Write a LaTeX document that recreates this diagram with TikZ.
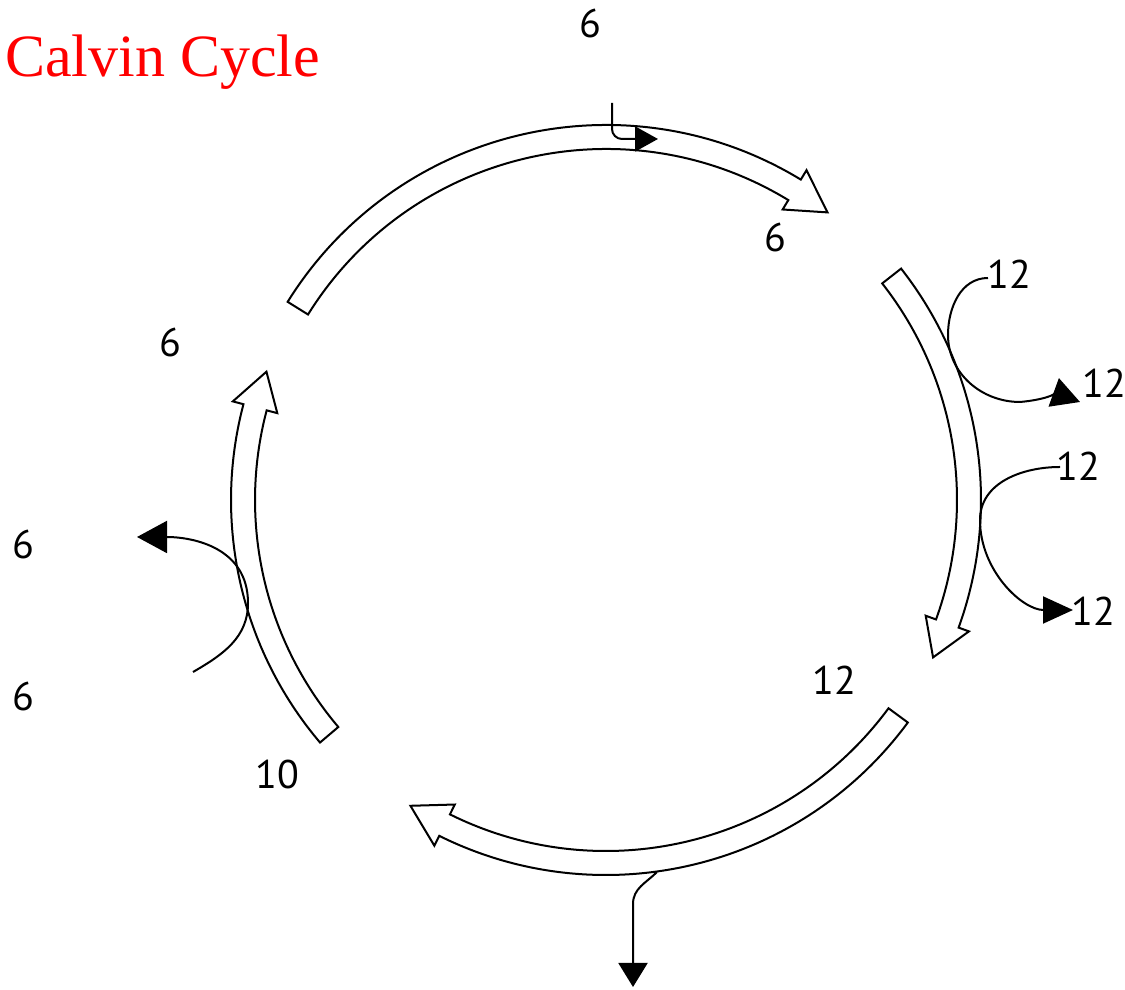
\documentclass[tikz,border=0pt]{standalone}
\usepackage{fontspec}
\setmainfont{Liberation Serif}
\newfontfamily\numfont{PT Sans}
\usetikzlibrary{arrows.meta}
\newcommand\cycband[3]{%
  \draw[band] (#1:375pt) arc[start angle=#1, end angle=#2, radius=375pt]
    -- (#2:386pt) -- (#3:363pt) -- (#2:340pt) -- (#2:351pt)
    arc[start angle=#2, end angle=#1, radius=351pt] -- cycle;}
\begin{document}
\begin{tikzpicture}[x=1pt,y=1pt,
  band/.style={draw=black, fill=white, line width=2pt, line join=miter},
  conn/.style={draw=black, line width=2pt},
  num/.style={font=\numfont\fontsize{40}{40}\selectfont, inner sep=0pt, text=black}]
\useasboundingbox (0,0) rectangle (1125,990);

% title
\node[anchor=base west, inner sep=0pt, text=red,
      font=\fontsize{60}{60}\selectfont] (title) at (5,913) {Calvin Cycle};

% the four cycle bands
\begin{scope}[shift={(606,490)}]
  \cycband{148.1}{58.7}{52.4}
  \cycband{38.1}{-19.9}{-25.7}
  \cycband{-36.4}{-116.4}{-122.6}
  \cycband{220.3}{165.2}{159.3}
\end{scope}

% labels
\node[num] (ltop)  at (590,966) {6};
\node[num] (ltr)   at (775,752) {6};
\node[num] (la)    at (1009,716) {12};
\node[num] (lb)    at (1104,607) {12};
\node[num] (lc)    at (1078,524) {12};
\node[num] (ld)    at (1093,379) {12};
\node[num] (lbr)   at (834,310) {12};
\node[num] (ltl)   at (170,647) {6};
\node[num] (lout)  at (23,445) {6};
\node[num] (lin)   at (23,293) {6};
\node[num] (lten)  at (277,215) {10};

% connector end points
\coordinate (c1s) at (612,887);
\coordinate (c1e) at (658,851);
\coordinate (c2s) at (988,712);
\coordinate (c2m) at (948,655);
\coordinate (c2b) at (1020,588);
\coordinate (c2e) at (1080,588);
\coordinate (c3s) at (1060,523);
\coordinate (c3m) at (980,470);
\coordinate (c3e) at (1073,380);
\coordinate (c4s) at (193,318);
\coordinate (c4m) at (248,387);
\coordinate (c4e) at (137,453);
\coordinate (c5s) at (657,118);
\coordinate (c5m) at (633,86);
\coordinate (c5e) at (633,3);

% connectors
\draw[conn, rounded corners=10pt, -{Triangle[length=23pt,width=25pt]}] (c1s) |- (c1e);
\draw[conn, -{Triangle[length=28pt,width=30pt]}]
  (c2s) to[out=180,in=90] (c2m) to[out=-90,in=180] (c2b) to[out=5,in=160] (c2e);
\draw[conn, -{Triangle[length=30pt,width=27pt]}]
  (c3s) to[out=180,in=90] (c3m) to[out=-90,in=180] (c3e);
\draw[conn, -{Triangle[length=30pt,width=32pt]}]
  (c4s) to[out=30,in=-90] (c4m) to[out=90,in=0,looseness=1.1] (c4e);
\draw[conn, -{Triangle[length=24pt,width=29pt]}]
  (c5s) to[out=-135,in=90] (c5m) -- (c5e);
\end{tikzpicture}
\end{document}
